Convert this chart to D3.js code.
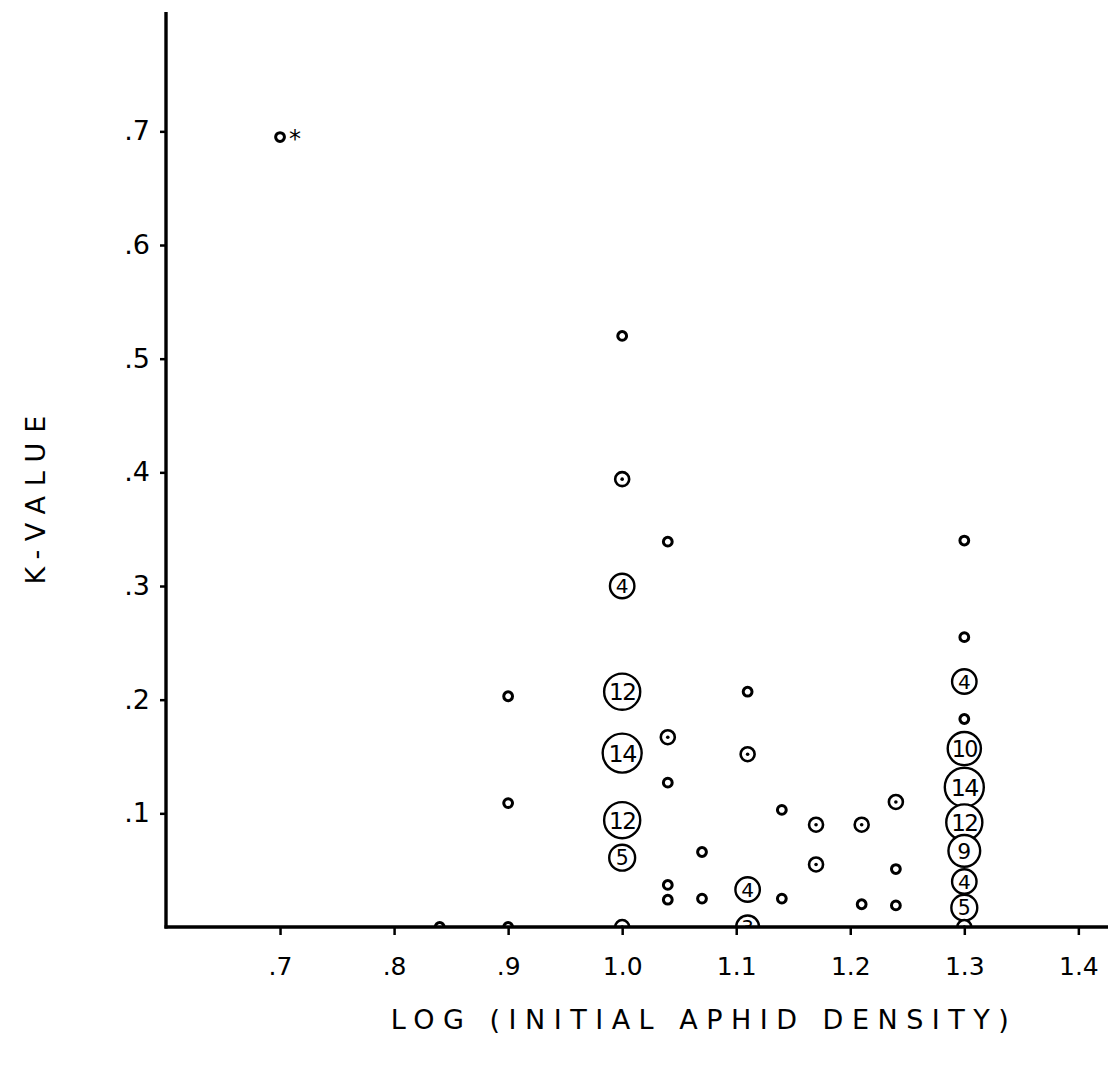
<!DOCTYPE html>
<html>
<head>
<meta charset="utf-8">
<script src="https://cdn.jsdelivr.net/npm/d3@7"></script>
<style>
  html, body { margin: 0; padding: 0; background: #fff; }
  svg { display: block; }
</style>
</head>
<body>
<svg id="chart" width="1108" height="1072"></svg>
<script>
// ---- data ----
const logDensity = [0.70, 0.84, 0.90, 0.90, 0.90,
  1.00, 1.00, 1.00, 1.00, 1.00, 1.00, 1.00, 1.00,
  1.04, 1.04, 1.04, 1.04, 1.04, 1.07, 1.07,
  1.11, 1.11, 1.11, 1.11, 1.14, 1.14, 1.17, 1.17, 1.21, 1.21,
  1.24, 1.24, 1.24,
  1.30, 1.30, 1.30, 1.30, 1.30, 1.30, 1.30, 1.30, 1.30, 1.30, 1.30];
const kValue = [0.695, 0.000, 0.000, 0.203, 0.109,
  0.520, 0.394, 0.300, 0.207, 0.153, 0.094, 0.061, 0.000,
  0.339, 0.167, 0.127, 0.037, 0.024, 0.066, 0.025,
  0.207, 0.152, 0.033, 0.000, 0.103, 0.025, 0.090, 0.055, 0.090, 0.020,
  0.110, 0.051, 0.019,
  0.340, 0.255, 0.216, 0.183, 0.157, 0.123, 0.092, 0.067, 0.040, 0.017, 0.000];
// ring = single point, dot = two coincident points, count = n coincident points
const markType = ["ring", "ring", "ring", "ring", "ring",
  "ring", "dot", "count", "count", "count", "count", "count", "dot",
  "ring", "dot", "ring", "ring", "ring", "ring", "ring",
  "ring", "dot", "count", "count", "ring", "ring", "dot", "dot", "dot", "ring",
  "dot", "ring", "ring",
  "ring", "ring", "count", "ring", "count", "count", "count", "count", "count", "count", "dot"];
const pointCount = [1, 1, 1, 1, 1,
  1, 2, 4, 12, 14, 12, 5, 2,
  1, 2, 1, 1, 1, 1, 1,
  1, 2, 4, 3, 1, 1, 2, 2, 2, 1,
  2, 1, 1,
  1, 1, 4, 1, 10, 14, 12, 9, 4, 5, 2];
const outlierIndex = 0; // the point marked with an asterisk

const xTicks = [0.7, 0.8, 0.9, 1.0, 1.1, 1.2, 1.3, 1.4];
const xTickLabels = [".7", ".8", ".9", "1.0", "1.1", "1.2", "1.3", "1.4"];
const yTicks = [0.1, 0.2, 0.3, 0.4, 0.5, 0.6, 0.7];
const yTickLabels = [".1", ".2", ".3", ".4", ".5", ".6", ".7"];
const xTitle = "LOG (INITIAL APHID DENSITY)";
const yTitle = "K-VALUE";

// ---- layout ----
const svg = d3.select("#chart");
const FONT = "'DejaVu Sans', 'Liberation Sans', sans-serif";
const x = d3.scaleLinear().domain([0.6, 1.426]).range([166, 1108]);
const y = d3.scaleLinear().domain([0, 0.805]).range([927, 12]);
const r = d3.scaleLinear().domain([3, 14]).range([11.5, 19.5]);

svg.append("rect").attr("width", 1108).attr("height", 1072).attr("fill", "#fff");

svg.append("defs").append("clipPath").attr("id", "plotclip")
  .append("rect").attr("x", x(0.6)).attr("y", 0)
  .attr("width", x(1.426) - x(0.6)).attr("height", y(0));

const data = logDensity.map((d, i) => ({
  x: d, k: kValue[i], type: markType[i], n: pointCount[i]
}));

const marks = svg.append("g").attr("clip-path", "url(#plotclip)");

const g = marks.selectAll("g.pt").data(data).join("g")
  .attr("class", "pt")
  .attr("transform", d => `translate(${x(d.x)},${y(d.k)})`);

g.filter(d => d.type === "ring").append("circle")
  .attr("r", 4.4).attr("fill", "#fff").attr("stroke", "#000").attr("stroke-width", 3);

g.filter(d => d.type === "dot").append("circle")
  .attr("r", 7).attr("fill", "#fff").attr("stroke", "#000").attr("stroke-width", 2.6);
g.filter(d => d.type === "dot").append("circle")
  .attr("r", 1.8).attr("fill", "#000");

const cg = g.filter(d => d.type === "count");
cg.append("circle")
  .attr("r", d => r(d.n)).attr("fill", "#fff").attr("stroke", "#000").attr("stroke-width", 2.4);
cg.append("text")
  .attr("text-anchor", "middle").attr("dy", "0.37em")
  .attr("font-family", FONT)
  .attr("font-size", d => 14 + r(d.n) * 0.5)
  .attr("letter-spacing", d => d.n >= 10 ? -1.5 : 0)
  .attr("fill", "#000")
  .text(d => d.n);

// asterisk annotation
svg.append("text")
  .attr("x", x(logDensity[outlierIndex]) + 9)
  .attr("y", y(kValue[outlierIndex]) + 10)
  .attr("font-family", FONT).attr("font-size", 24)
  .text("*");

// ---- axes ----
const xAxis = d3.axisBottom(x).tickValues(xTicks)
  .tickFormat((d, i) => xTickLabels[i]).tickSize(8).tickPadding(22);
const gx = svg.append("g").attr("transform", `translate(0,${y(0)})`).call(xAxis);
gx.select(".domain").remove();
gx.selectAll(".tick line").attr("stroke", "#000").attr("stroke-width", 2.5);
gx.selectAll(".tick text").attr("font-family", FONT).attr("font-size", 25).attr("fill", "#000");

const yAxis = d3.axisLeft(y).tickValues(yTicks)
  .tickFormat((d, i) => yTickLabels[i]).tickSize(6).tickPadding(10);
const gy = svg.append("g").attr("transform", `translate(${x(0.6)},0)`).call(yAxis);
gy.select(".domain").remove();
gy.selectAll(".tick line").attr("stroke", "#000").attr("stroke-width", 2.5);
gy.selectAll(".tick text").attr("font-family", FONT).attr("font-size", 27).attr("fill", "#000");

// axis lines
svg.append("line")
  .attr("x1", x(0.6)).attr("x2", x(0.6)).attr("y1", y(0.805)).attr("y2", y(0) + 1.5)
  .attr("stroke", "#000").attr("stroke-width", 3.4);
svg.append("line")
  .attr("x1", x(0.6) - 1.5).attr("x2", x(1.426)).attr("y1", y(0)).attr("y2", y(0))
  .attr("stroke", "#000").attr("stroke-width", 3.4);

// titles
svg.append("text")
  .attr("x", 704).attr("y", 1029)
  .attr("text-anchor", "middle")
  .attr("font-family", FONT).attr("font-size", 27).attr("letter-spacing", 8.5)
  .text(xTitle);
svg.append("text")
  .attr("transform", "translate(45,495) rotate(-90)")
  .attr("text-anchor", "middle")
  .attr("font-family", FONT).attr("font-size", 27).attr("letter-spacing", 10)
  .text(yTitle);
</script>
</body>
</html>
